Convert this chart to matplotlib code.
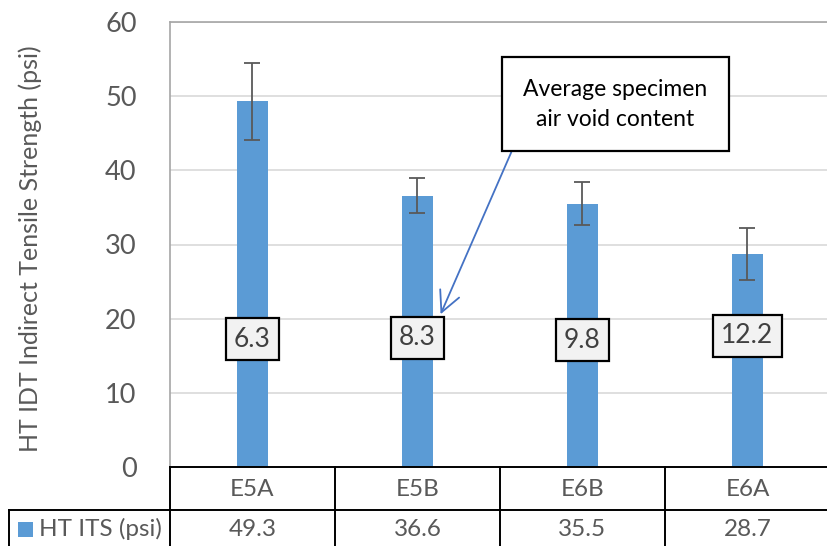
import matplotlib
matplotlib.use("Agg")
import matplotlib.pyplot as plt
from matplotlib.transforms import blended_transform_factory
from matplotlib.patches import Rectangle
from matplotlib.lines import Line2D

categories = ["E5A", "E5B", "E6B", "E6A"]
its_values = [49.3, 36.6, 35.5, 28.7]
its_errors = [5.2, 2.35, 2.9, 3.5]
air_voids = ["6.3", "8.3", "9.8", "12.2"]
label_y = [17.2, 17.4, 17.1, 17.7]
series_name = "HT ITS (psi)"
y_label = "HT IDT Indirect Tensile Strength (psi)"
yticks = [0, 10, 20, 30, 40, 50, 60]

plt.rcParams['font.family'] = ['Lato', 'DejaVu Sans']
W, H = 828, 546
fig = plt.figure(figsize=(W / 100, H / 100), dpi=100)
fig.patch.set_facecolor("white")

left_px, top_px, bottom_px = 170, 22, 467
cat_w = 165
ax = fig.add_axes([left_px / W, (H - bottom_px) / H,
                   cat_w * len(categories) / W, (bottom_px - top_px) / H])

bar_color = "#5B9BD5"
text_color = "#595959"
x = list(range(len(categories)))
ax.bar(x, its_values, width=0.19, color=bar_color, zorder=3)
ax.errorbar(x, its_values, yerr=its_errors, fmt="none", ecolor="#595959",
            elinewidth=1.3, capsize=6, capthick=1.3, zorder=4)

ax.set_xlim(-0.5, len(categories) - 0.5)
ax.set_ylim(0, 60)
ax.set_yticks(yticks)
ax.set_yticklabels([str(t) for t in yticks], fontsize=19.5, color=text_color)
ax.tick_params(axis="y", length=0, pad=24)
ax.tick_params(axis="x", bottom=False, labelbottom=False)
ax.yaxis.grid(True, color="#D9D9D9", linewidth=1.2, zorder=0)
ax.set_axisbelow(True)
for s in ["right", "bottom"]:
    ax.spines[s].set_visible(False)
for s in ["left", "top"]:
    ax.spines[s].set_color("#A6A6A6")
    ax.spines[s].set_linewidth(1.2)
ax.set_ylabel(y_label, fontsize=18, color=text_color)
ax.yaxis.set_label_coords(-0.194, 0.49)

# air-void data labels
for xi, lab, ly in zip(x, air_voids, label_y):
    ax.text(xi, ly, lab, ha="center", va="center", fontsize=19, color="#404040",
            zorder=6,
            bbox=dict(boxstyle="square,pad=0.32", facecolor="#F2F2F2",
                      edgecolor="black", linewidth=1.6))

# callout
ax.annotate("Average specimen\nair void content",
            xy=(1.14, 20.6), xytext=(2.2, 48.9),
            ha="center", va="center", fontsize=16.5, color="black",
            linespacing=1.5, zorder=7,
            bbox=dict(boxstyle="square,pad=0.95", facecolor="white",
                      edgecolor="black", linewidth=1.6),
            arrowprops=dict(arrowstyle="->,head_length=0.9,head_width=0.45",
                            color="#4472C4", linewidth=1.3,
                            shrinkA=0, shrinkB=0, relpos=(0, 0.1)))

# data table below axis
tr = blended_transform_factory(ax.transData, ax.transAxes)
ph = bottom_px - top_px
row1_bot = -43 / ph
row2_bot = -100 / ph
left_cell = -0.5 - 161 / cat_w
xr = len(categories) - 0.5
lw = 1.4
lines = [
    ([-0.5, xr], [0, 0]),
    ([left_cell, xr], [row1_bot, row1_bot]),
    ([left_cell, left_cell], [row1_bot, row2_bot]),
]
for i in range(len(categories) + 1):
    lines.append(([i - 0.5, i - 0.5], [0, row2_bot]))
for xs, ys in lines:
    ax.add_line(Line2D(xs, ys, transform=tr, color="black", linewidth=lw,
                       clip_on=False, zorder=5))

row1_mid = -22 / ph
row2_mid = -62 / ph
for xi, cat, v in zip(x, categories, its_values):
    ax.text(xi, row1_mid, cat, transform=tr, ha="center", va="center",
            fontsize=17.5, color=text_color, clip_on=False)
    ax.text(xi, row2_mid, f"{v:.1f}", transform=tr, ha="center", va="center",
            fontsize=17.5, color=text_color, clip_on=False)

sq_x = -0.5 - 152 / cat_w
ax.add_patch(Rectangle((sq_x, row2_mid - 8 / ph), 15 / cat_w, 15 / ph,
                       transform=tr, facecolor=bar_color, edgecolor="none",
                       clip_on=False))
ax.text(sq_x + 21 / cat_w, row2_mid, series_name, transform=tr, ha="left",
        va="center", fontsize=17.5, color=text_color, clip_on=False)

fig.savefig("out.png", dpi=100)
